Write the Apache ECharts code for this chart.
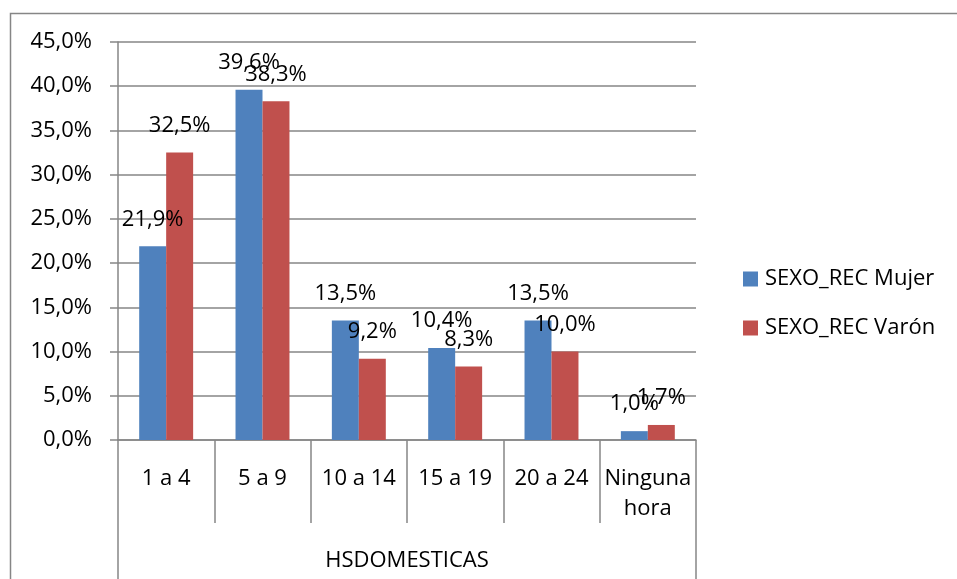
<!DOCTYPE html>
<html lang="es">
<head>
    <meta charset="UTF-8">
    <title>HSDOMESTICAS</title>
    <script src="https://cdn.jsdelivr.net/npm/echarts@6/dist/echarts.min.js"></script>
    <style>
        html, body { margin: 0; padding: 0; background: #fff; }
    </style>
</head>
<body>
<div id="main" style="width:957px;height:579px;"></div>
<script type="text/javascript">
    // datos (porcentaje)
    var categorias = ['1 a 4', '5 a 9', '10 a 14', '15 a 19', '20 a 24', 'Ninguna\nhora'];
    var mujer = [21.9, 39.6, 13.5, 10.4, 13.5, 1.0];
    var varon = [32.5, 38.3, 9.2, 8.3, 10.0, 1.7];
    var nombres = ['SEXO_REC Mujer', 'SEXO_REC Varón'];
    var tituloEje = 'HSDOMESTICAS';

    var gris = '#868686';
    var fuente = '"Open Sans", "Noto Sans", sans-serif';

    function pct(v) {
        return Number(v).toFixed(1).replace('.', ',') + '%';
    }

    var myChart = echarts.init(document.getElementById('main'));

    var etiqueta = {
        show: true,
        position: 'top',
        distance: 16,
        color: '#000',
        fontFamily: fuente,
        fontSize: 22,
        formatter: function (p) { return pct(p.value); }
    };

    var option = {
        animation: false,
        textStyle: { fontFamily: fuente },
        graphic: [
            { // marco exterior
                type: 'rect',
                shape: { x: 10.5, y: 13.5, width: 1000, height: 700 },
                style: { fill: 'none', stroke: gris, lineWidth: 1.5 },
                silent: true
            }
        ],
        grid: { left: 118, right: 261, top: 42, bottom: 139 },
        legend: {
            orient: 'vertical',
            left: 738,
            top: 263,
            itemWidth: 15,
            itemHeight: 15,
            itemGap: 27,
            icon: 'rect',
            data: nombres,
            textStyle: { fontFamily: fuente, fontSize: 22, color: '#000', padding: [0, 0, 0, 2] }
        },
        xAxis: [
            {
                type: 'category',
                data: categorias,
                axisLine: { show: true, lineStyle: { color: gris, width: 1.5 } },
                axisTick: { show: true, length: 83, interval: 0, lineStyle: { color: gris, width: 1.5 } },
                axisLabel: {
                    interval: 0,
                    margin: 24,
                    lineHeight: 30,
                    color: '#000',
                    fontFamily: fuente,
                    fontSize: 22
                }
            },
            {
                type: 'category',
                position: 'bottom',
                offset: 83,
                data: [tituloEje],
                axisLine: { show: false },
                axisTick: { show: true, length: 70, lineStyle: { color: gris, width: 1.5 } },
                axisLabel: {
                    margin: 23,
                    lineHeight: 30,
                    color: '#000',
                    fontFamily: fuente,
                    fontSize: 22
                }
            }
        ],
        yAxis: {
            type: 'value',
            min: 0,
            max: 45,
            interval: 5,
            axisLine: { show: true, lineStyle: { color: gris, width: 1.5 } },
            axisTick: { show: true, length: 8, lineStyle: { color: gris, width: 1.5 } },
            splitLine: { show: true, lineStyle: { color: gris, width: 1.5 } },
            axisLabel: {
                margin: 26,
                color: '#000',
                fontFamily: fuente,
                fontSize: 22,
                formatter: pct
            }
        },
        series: [
            {
                name: nombres[0],
                type: 'bar',
                data: mujer,
                barGap: '0%',
                barCategoryGap: '44%',
                itemStyle: { color: '#4F81BD' },
                label: etiqueta
            },
            {
                name: nombres[1],
                type: 'bar',
                data: varon,
                itemStyle: { color: '#C0504D' },
                label: etiqueta
            }
        ]
    };

    myChart.setOption(option);
</script>
</body>
</html>
